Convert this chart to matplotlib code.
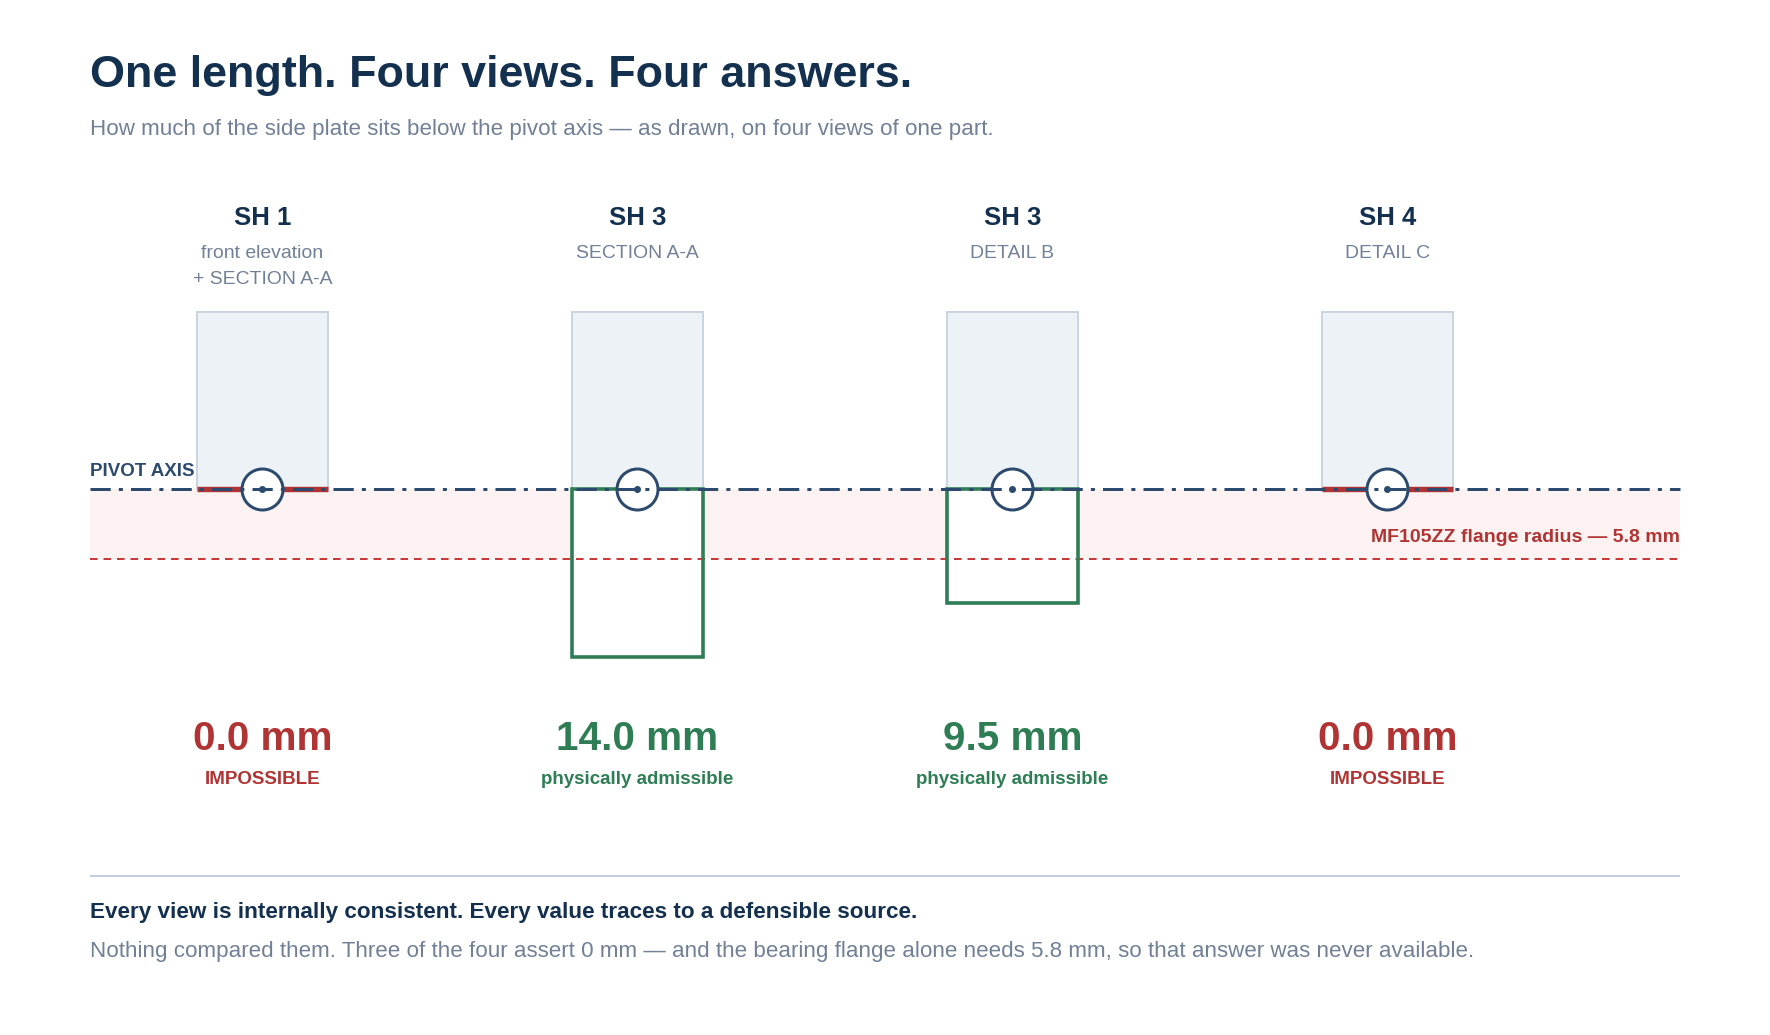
import matplotlib
matplotlib.use("Agg")
import matplotlib.pyplot as plt
from matplotlib.patches import Rectangle
from matplotlib.transforms import Affine2D

# ---------- data ----------
sheets = ["SH 1", "SH 3", "SH 3", "SH 4"]
views = ["front elevation\n+ SECTION A-A", "SECTION A-A", "DETAIL B", "DETAIL C"]
depth_mm = [0.0, 14.0, 9.5, 0.0]
verdicts = ["IMPOSSIBLE", "physically admissible", "physically admissible", "IMPOSSIBLE"]
flange_radius_mm = 5.8
plate_above_mm = 14.75

title = "One length. Four views. Four answers."
subtitle = "How much of the side plate sits below the pivot axis \u2014 as drawn, on four views of one part."
flange_label = "MF105ZZ flange radius \u2014 5.8 mm"
pivot_label = "PIVOT AXIS"
foot_bold = "Every view is internally consistent. Every value traces to a defensible source."
foot_text = ("Nothing compared them. Three of the four assert 0 mm \u2014 and the bearing flange alone "
             "needs 5.8 mm, so that answer was never available.")

# ---------- style ----------
NAVY = "#14304f"; SLATE = "#718096"; AXIS = "#2c4a6e"
RED = "#b03434"; GREEN = "#2e7d55"; FILL = "#edf2f7"; EDGE = "#cbd5e0"
BAND = "#fcf2f1"; RULE = "#b8c6d6"; DASH = "#c8393b"
W, H = 1770, 1035
PX = 0.72
plt.rcParams["font.family"] = ["Liberation Sans", "DejaVu Sans"]
plt.rcParams["lines.scale_dashes"] = False

fig = plt.figure(figsize=(W / 100, H / 100), dpi=100, facecolor="white")
ax = fig.add_axes([0, 0, 1, 1])
# x: one unit per view (375 px); y: millimetres below the pivot axis (12 px per mm)
X0, XU, Y0, YU = 262.3, 375.0, 489.0, 12.0
ax.set_xlim((0 - X0) / XU, (W - X0) / XU)
ax.set_ylim((H - Y0) / YU, (0 - Y0) / YU)
ax.axis("off")

pix = Affine2D().scale(1, -1).translate(0, H)   # pixel coordinates, y down, for page text


def txt(x, y, s, size, color, weight="normal", ha="left", **kw):
    return ax.text(x, y, s, transform=pix, fontsize=size * PX, color=color,
                   fontweight=weight, ha=ha, va="baseline", **kw)


left, right = (90 - X0) / XU, (1680 - X0) / XU
half = 65.7 / XU

ax.add_patch(Rectangle((left, 0), right - left, flange_radius_mm, fc=BAND, ec="none", zorder=1))

for i, d in enumerate(depth_mm):
    ax.add_patch(Rectangle((i - half, -plate_above_mm), 2 * half, plate_above_mm,
                           fc=FILL, ec=EDGE, lw=2 * PX, zorder=3))
    if d > 0:
        ax.add_patch(Rectangle((i - half, 0), 2 * half, d, fc="white", ec="none", zorder=3.5))
        ax.add_patch(Rectangle((i - half, 0), 2 * half, d, fc="none", ec=GREEN,
                               lw=3.6 * PX, zorder=5, joinstyle="miter"))
    else:
        ax.plot([i - half, i + half], [0, 0], color=RED, lw=5.4 * PX,
                solid_capstyle="butt", zorder=4)
    ax.plot([i], [0], "o", ms=41 * PX, mfc="white", mec=AXIS, mew=3 * PX, zorder=6)

ax.plot([left, right], [flange_radius_mm] * 2, color=DASH, lw=2 * PX,
        ls=(0, (7.6 * PX, 5.9 * PX)), dash_capstyle="butt", zorder=4)
ax.plot([left, right], [0, 0], color=AXIS, lw=3 * PX,
        ls=(0, (20.25 * PX, 8.1 * PX, 4.05 * PX, 8.1 * PX)), dash_capstyle="butt", zorder=7)
ax.plot(range(len(depth_mm)), [0] * len(depth_mm), "o", ms=7 * PX, color=AXIS, mew=0, zorder=8)

# ---------- text ----------
txt(90, 87, title, 44.9, NAVY, "bold")
txt(90, 135, subtitle, 22.36, SLATE)
txt(90, 476, pivot_label, 18.8, AXIS, "bold")
txt(1680, 542, flange_label, 19.5, RED, "bold", ha="right")

for i, (s, v, d, vd) in enumerate(zip(sheets, views, depth_mm, verdicts)):
    cx = X0 + XU * i
    col = GREEN if d > 0 else RED
    txt(cx, 225, s, 25.7, NAVY, "bold", ha="center")
    for k, line in enumerate(v.split("\n")):
        txt(cx, 258 + 25.5 * k, line, 19.4, SLATE, ha="center")
    txt(cx, 750, f"{d:.1f} mm", 40.5, col, "bold", ha="center")
    txt(cx, 784, vd, 18.8, col, "bold", ha="center")

ax.plot([left, right], [(876 - Y0) / YU] * 2, color=RULE, lw=1.7 * PX, solid_capstyle="butt", zorder=2)
txt(90, 918, foot_bold, 22.44, NAVY, "bold")
txt(90, 957, foot_text, 22.35, SLATE)

fig.savefig("out.png", dpi=100, facecolor="white")
